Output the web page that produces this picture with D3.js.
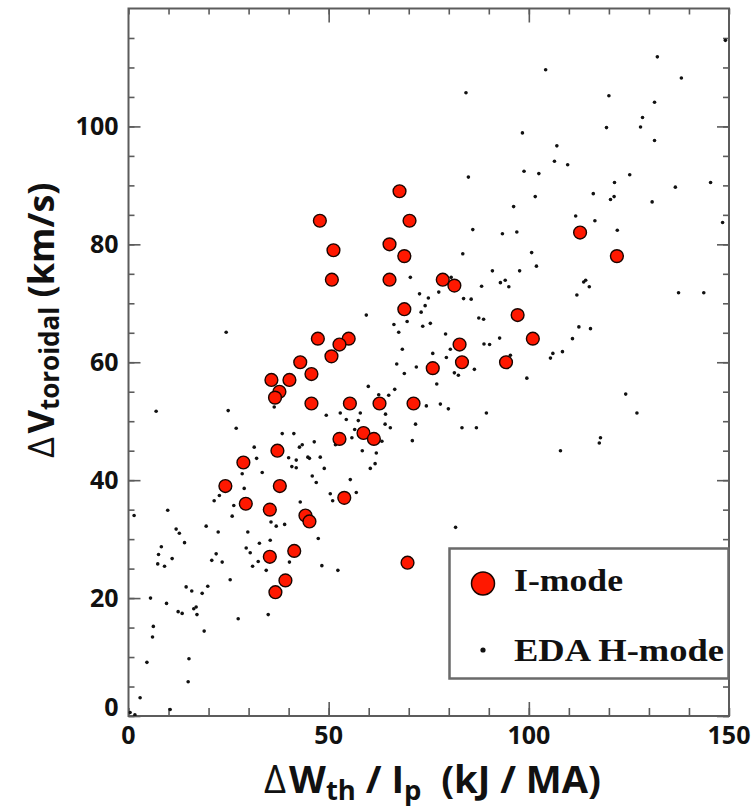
<!DOCTYPE html>
<html>
<head>
<meta charset="utf-8">
<script src="https://cdn.jsdelivr.net/npm/d3@7"></script>
<style>
  html, body { margin: 0; padding: 0; background: #fff; }
  svg { display: block; }
</style>
</head>
<body>
<svg id="chart" width="756" height="811"></svg>
<script>
// I-mode discharges: energy change per current (kJ/MA) vs toroidal rotation change (km/s)
const iModeX = [47.8, 67.7, 70.2, 112.8, 65.2, 68.9, 51.2, 50.8, 65.2, 78.5,
                81.4, 68.9, 97.2, 47.3, 55.0, 52.7, 101.0, 82.7, 50.7, 42.9,
                83.3, 94.3, 45.7, 76.0, 35.7, 40.2, 37.7, 36.6, 45.7, 55.3,
                62.7, 71.2, 58.7, 52.7, 61.3, 37.2, 28.7, 24.2, 37.8, 29.3,
                35.3, 44.2, 45.2, 53.9, 41.4, 35.3, 39.2, 36.7, 69.7, 122.0];
const iModeY = [84, 89, 84, 82, 80, 78, 79, 74, 74, 74,
                73, 69, 68, 64, 64, 63, 64, 63, 61, 60,
                60, 60, 58, 59, 57, 57, 55, 54, 53, 53,
                53, 53, 48, 47, 47, 45, 43, 39, 39, 36,
                35, 34, 33, 37, 28, 27, 23, 21, 26, 78];

// EDA H-mode discharges
const edaX = [104.2, 84.3, 98.4, 107, 106.4, 109.7, 84.9, 98.8, 102.5, 101.6, 116.1, 96.2, 111.7, 116.5, 86, 93.4, 97,
              149.1, 132.1, 138.1, 120, 131.4, 128.4, 127.9, 119.4, 131.4, 125.2, 121.4, 145.4, 136.6, 121.3, 120.4, 130.8, 122.1, 148.4,
              113.7, 114.2, 115.1, 112, 137.4, 143.7, 112.5, 115.4, 110.9, 108.4, 124.2, 127, 117.9, 117.6, 107.9,
              83.5, 100.7, 101.9, 90.9, 97.7, 70.4, 80.6, 92.9, 94.1, 95, 88.2, 72.7, 77.5, 74.9, 83.7, 85.6, 74.1, 73.1, 59.4, 66.3,
              69.6, 73.5, 75.4, 87.5, 88.7, 67.5, 79.2, 92.7, 88.8, 90.2, 68.4, 76, 79.4, 80.4, 106, 105.4, 95.4, 67, 71.9, 68.9,
              81.4, 82.4, 86.4, 99.5, 77, 59.9, 66.5, 65, 62.5, 74.4, 77.9, 79.9, 89.4, 52.9, 57.9, 54.4, 57.4, 64.2, 64.1, 65.4,
              71.7, 83.3, 86.9, 56.5, 63.3, 70.9, 58.4, 61.9, 61.6, 60.4,
              24.4, 6.9, 24.9, 26.9, 31.4, 32, 38.4, 41.3, 42.7, 43.4, 46.4, 49.4, 55.8, 44.8, 45.2, 47.9, 40, 41.9, 48.9, 36.4, 51.7,
              28.4, 33.4, 40.8, 41.9, 45.9, 46.9, 55.4, 56.9, 50.4, 51, 28.9, 21.4, 22.7, 26.3, 25.9, 19.4, 22.4, 29.8, 35.6, 36.9,
              39, 42.9, 47.4, 32.7, 35.4, 29.4, 30.4, 21.9, 20.8, 23.4, 31, 32.4, 34.4, 40.2, 48.3, 52.3, 25.4, 14.4, 15.8, 19.8,
              18.4, 5.5, 9.5, 12.4, 13.4, 16.3, 16.9, 17.1, 27.4, 34.9, 6.2, 6, 18.9, 4.6, 15.1, 14.9, 2.9, 10.4, 1.4, 9.8,
              11.9, 12.7, 14, 8.2, 7.5, 7.3, 9, 10.9, 81.7, 0.4, 1.6];
const edaY = [109.6, 105.7, 98.9, 96.7, 94.1, 93.5, 91.4, 92.4, 92.0, 88.1, 88.6, 86.4, 84.8, 84.0, 82.5, 81.8, 82.1,
              114.6, 111.8, 108.2, 105.2, 104.1, 101.5, 99.9, 99.8, 97.6, 91.8, 90.5, 90.5, 89.7, 88.1, 87.6, 87.2, 82.4, 83.7,
              73.6, 73.9, 72.8, 71.4, 71.8, 71.8, 66.0, 65.7, 64.0, 61.8, 54.6, 51.4, 47.2, 46.3, 45.0,
              78.4, 78.6, 76.3, 75.5, 75.5, 74.4, 74.4, 73.5, 73.9, 72.8, 72.9, 71.6, 71.9, 70.9, 70.8, 70.7, 69.6, 68.5, 68.0, 66.4,
              66.9, 66.1, 66.6, 67.5, 67.3, 65.1, 64.8, 64.1, 63.1, 63.0, 62.2, 61.5, 60.8, 62.2, 61.5, 60.7, 61.2, 59.7, 59.2, 58.1,
              58.2, 57.8, 58.8, 57.3, 56.3, 55.9, 55.4, 54.4, 54.5, 52.6, 52.9, 52.1, 51.4, 51.4, 51.4, 50.3, 50.1, 51.2, 49.5, 48.9,
              49.5, 48.9, 48.9, 48.6, 46.6, 46.7, 45.0, 44.6, 42.8, 42.0,
              65.1, 51.7, 51.8, 48.8, 45.6, 43.7, 47.9, 47.9, 45.6, 46.0, 46.5, 51.0, 47.2, 43.9, 43.7, 43.9, 43.8, 43.4, 42.0, 52.4, 46.0,
              41.1, 41.3, 42.3, 42.1, 40.7, 39.6, 40.1, 37.9, 37.7, 36.5, 38.6, 36.5, 37.4, 35.7, 33.9, 32.2, 31.2, 31.2, 32.9, 32.2,
              32.5, 36.3, 30.1, 29.3, 29.8, 28.5, 27.7, 27.5, 26.4, 26.1, 25.4, 26.2, 24.7, 26.1, 25.5, 24.7, 23.1, 21.9, 21.2, 22.0,
              20.8, 20.0, 19.1, 17.7, 17.4, 18.2, 18.5, 17.2, 16.5, 17.2, 15.2, 13.4, 14.4, 9.1, 9.7, 5.8, 3.1, 1.1, 34.0, 34.9,
              31.7, 31.0, 29.4, 28.7, 27.4, 25.8, 25.4, 26.7, 32.0, 0.6, 0.2];

// axis ticks
const xMajorTicks = [0, 50, 100, 150];
const xMinorTicks = d3.range(0, 151, 10);
const yMajorTicks = [0, 20, 40, 60, 80, 100];
const yMinorTicks = d3.range(0, 120, 5);

const legendLabels = ["I-mode", "EDA H-mode"];

const plot = { left: 128.5, right: 729, top: 8.5, bottom: 716 };

const svg = d3.select("#chart");

const x = d3.scaleLinear().domain([0, 150]).range([plot.left, plot.right]);
const y = d3.scaleLinear().domain([0, 120]).range([plot.bottom, plot.top]);

const axisColor = "#5c5c5c";
const tickFont = "'Open Sans', 'Noto Sans', sans-serif";

// clip for data marks
svg.append("defs").append("clipPath").attr("id", "plotClip")
  .append("rect")
  .attr("x", plot.left).attr("y", plot.top)
  .attr("width", plot.right - plot.left).attr("height", plot.bottom - plot.top);

// ticks pointing into the plot on all four sides
function styleAxis(g) {
  g.select(".domain").remove();
  g.selectAll(".tick line").attr("stroke", axisColor).attr("stroke-width", 1.6);
  g.selectAll(".tick text").remove();
}
svg.append("g").attr("transform", `translate(0,${plot.bottom})`)
  .call(d3.axisBottom(x).tickValues(xMinorTicks).tickSize(-8)).call(styleAxis);
svg.append("g").attr("transform", `translate(0,${plot.bottom})`)
  .call(d3.axisBottom(x).tickValues(xMajorTicks.slice(1, -1)).tickSize(-14)).call(styleAxis);
svg.append("g").attr("transform", `translate(0,${plot.top})`)
  .call(d3.axisTop(x).tickValues(xMinorTicks).tickSize(-6)).call(styleAxis);
svg.append("g").attr("transform", `translate(0,${plot.top})`)
  .call(d3.axisTop(x).tickValues(xMajorTicks.slice(1, -1)).tickSize(-14)).call(styleAxis);
svg.append("g").attr("transform", `translate(${plot.left},0)`)
  .call(d3.axisLeft(y).tickValues(yMinorTicks).tickSize(-6)).call(styleAxis);
svg.append("g").attr("transform", `translate(${plot.left},0)`)
  .call(d3.axisLeft(y).tickValues(yMajorTicks).tickSize(-12)).call(styleAxis);
svg.append("g").attr("transform", `translate(${plot.right},0)`)
  .call(d3.axisRight(y).tickValues(yMinorTicks).tickSize(-6)).call(styleAxis);
svg.append("g").attr("transform", `translate(${plot.right},0)`)
  .call(d3.axisRight(y).tickValues(yMajorTicks).tickSize(-12)).call(styleAxis);

// frame
svg.append("rect")
  .attr("x", plot.left).attr("y", plot.top)
  .attr("width", plot.right - plot.left).attr("height", plot.bottom - plot.top)
  .attr("fill", "none").attr("stroke", axisColor).attr("stroke-width", 2);

// tick labels
svg.append("g").selectAll("text").data(xMajorTicks).join("text")
  .attr("x", d => x(d)).attr("y", 744)
  .attr("text-anchor", "middle")
  .attr("font-family", tickFont).attr("font-weight", 700).attr("font-size", 25)
  .attr("fill", "#111")
  .text(d => d);

svg.append("g").selectAll("text").data(yMajorTicks).join("text")
  .attr("x", plot.left - 10)
  .attr("y", d => d === 0 ? plot.bottom : y(d) + 9)
  .attr("text-anchor", "end")
  .attr("font-family", tickFont).attr("font-weight", 700).attr("font-size", 25)
  .attr("fill", "#111")
  .text(d => d);

// EDA H-mode points
const data = svg.append("g").attr("clip-path", "url(#plotClip)");
data.append("g").selectAll("circle").data(edaX.map((v, i) => [v, edaY[i]])).join("circle")
  .attr("cx", d => x(d[0])).attr("cy", d => y(d[1]))
  .attr("r", 1.8).attr("fill", "#111");

// I-mode points
data.append("g").selectAll("circle").data(iModeX.map((v, i) => [v, iModeY[i]])).join("circle")
  .attr("cx", d => x(d[0])).attr("cy", d => y(d[1]))
  .attr("r", 6.4).attr("fill", "#ff1800").attr("stroke", "#1a0500").attr("stroke-width", 1.4);

// legend
const lg = svg.append("g");
lg.append("rect")
  .attr("x", 449.5).attr("y", 548.5).attr("width", 279).attr("height", 130)
  .attr("fill", "#fff").attr("stroke", "#6a6a6a").attr("stroke-width", 2.5);
lg.append("circle").attr("cx", 483).attr("cy", 583.5).attr("r", 11.5)
  .attr("fill", "#ff1800").attr("stroke", "#1a0500").attr("stroke-width", 1.5);
lg.append("circle").attr("cx", 483).attr("cy", 650).attr("r", 2.6).attr("fill", "#111");
const legendFont = "'Liberation Serif', 'Times New Roman', serif";
lg.append("text").attr("x", 514).attr("y", 591)
  .attr("font-family", legendFont).attr("font-weight", 700).attr("font-size", 31)
  .attr("textLength", 109).attr("lengthAdjust", "spacingAndGlyphs")
  .attr("fill", "#111").text(legendLabels[0]);
lg.append("text").attr("x", 514).attr("y", 661)
  .attr("font-family", legendFont).attr("font-weight", 700).attr("font-size", 31)
  .attr("textLength", 210).attr("lengthAdjust", "spacingAndGlyphs")
  .attr("fill", "#111").text(legendLabels[1]);

// axis titles with subscripts
const titleFont = "'Open Sans', 'Noto Sans', sans-serif";
function titleParts(sel, parts, size) {
  sel.selectAll("tspan").remove();
  parts.forEach(p => {
    const t = sel.append("tspan").text(p.t)
      .attr("font-size", p.sub ? size * 0.72 : size)
      .attr("font-weight", p.thin ? 400 : 700);
    if (p.dy) t.attr("dy", p.dy * size);
    if (p.dx) t.attr("dx", p.dx * size);
  });
}
const xTitleParts = [
  { t: "\u0394", thin: true }, { t: "W", dx: 0.08 }, { t: "th", sub: true, dy: 0.18 },
  { t: " / I", dy: -0.18 }, { t: "p", sub: true, dy: 0.18 }, { t: "  (kJ / MA)", dy: -0.18 }
];
const yTitleParts = [
  { t: "\u0394", thin: true }, { t: "V", dx: 0.1 }, { t: "toroidal", sub: true, dy: 0.14 },
  { t: " (km/s)", dy: -0.14 }
];

// fit a title to a given run length
function fitTitle(sel, parts, len) {
  let size = 32;
  titleParts(sel, parts, size);
  size = size * len / sel.node().getComputedTextLength();
  titleParts(sel, parts, size);
}

const xTitle = svg.append("text").attr("fill", "#111").attr("font-family", titleFont)
  .attr("x", 264).attr("y", 793).attr("xml:space", "preserve");
fitTitle(xTitle, xTitleParts, 334);

const yTitle = svg.append("text").attr("fill", "#111").attr("font-family", titleFont)
  .attr("transform", "translate(54,458) rotate(-90)").attr("xml:space", "preserve");
fitTitle(yTitle, yTitleParts, 272);
</script>
</body>
</html>
